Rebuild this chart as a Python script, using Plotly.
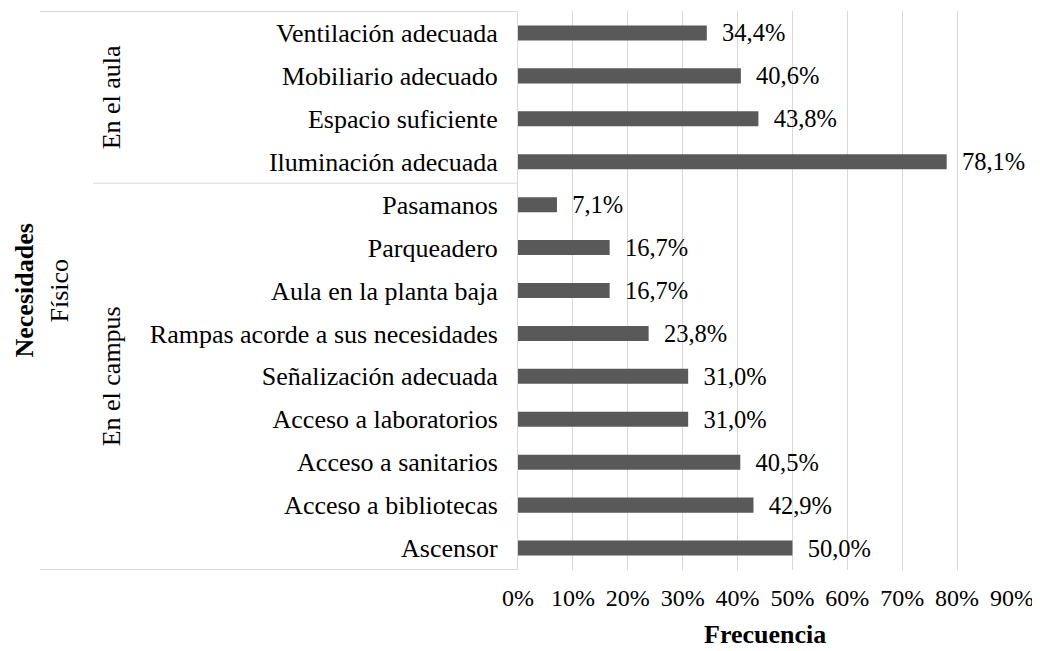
import plotly.graph_objects as go

# data
aula_labels = ["Ventilación adecuada", "Mobiliario adecuado", "Espacio suficiente", "Iluminación adecuada"]
aula_values = [34.4, 40.6, 43.8, 78.1]

campus_labels = [
    "Pasamanos",
    "Parqueadero",
    "Aula en la planta baja",
    "Rampas acorde a sus necesidades",
    "Señalización adecuada",
    "Acceso a laboratorios",
    "Acceso a sanitarios",
    "Acceso a bibliotecas",
    "Ascensor",
]
campus_values = [7.1, 16.7, 16.7, 23.8, 31.0, 31.0, 40.5, 42.9, 50.0]

group_names = ["En el aula", "En el campus"]
outer_name = "Físico"
x_ticks = [0, 10, 20, 30, 40, 50, 60, 70, 80, 90]

labels = aula_labels + campus_labels
values = aula_values + campus_values

FONT = "Liberation Serif, Times New Roman, serif"
BAR = "#595959"
GRID = "#d9d9d9"

# the page body adds an 8px margin, so the figure is drawn 8px smaller
OFF = 8
W, H = 1040 - OFF, 651 - OFF
L, R, T, B = 518 - OFF, 28, 11 - OFF, 81
plot_w = W - L - R
plot_h = H - T - B


def px_to_paper_x(px):
    # px is a page pixel of the reference
    return (px - OFF - L) / plot_w


def px_to_paper_y(py):
    return (H - B - (py - OFF)) / plot_h


texts = ["\u00a0\u00a0" + f"{v:.1f}%".replace(".", ",") for v in values]

fig = go.Figure(
    go.Bar(
        x=[v / 100 for v in values],
        y=labels,
        orientation="h",
        marker=dict(color=BAR, line=dict(width=0)),
        width=0.35,
        text=texts,
        textposition="outside",
        constraintext="none",
        cliponaxis=False,
        textfont=dict(family=FONT, size=24.5, color="black"),
        hoverinfo="skip",
    )
)

fig.update_layout(
    width=W,
    height=H,
    margin=dict(l=L, r=R, t=T, b=B),
    plot_bgcolor="white",
    paper_bgcolor="white",
    showlegend=False,
    font=dict(family=FONT, color="black"),
    xaxis=dict(
        range=[0, 0.9],
        tickvals=[t / 100 for t in x_ticks],
        ticktext=[f"{t}%" for t in x_ticks],
        tickfont=dict(size=24),
        showgrid=True,
        gridcolor=GRID,
        gridwidth=1,
        zeroline=False,
        showline=False,
        ticks="outside",
        ticklen=6,
        tickcolor="rgba(0,0,0,0)",
        fixedrange=True,
    ),
    yaxis=dict(
        categoryorder="array",
        categoryarray=labels,
        autorange="reversed",
        tickfont=dict(size=26),
        showgrid=False,
        showline=True,
        linecolor=GRID,
        linewidth=1,
        ticks="outside",
        ticklen=14,
        tickcolor="rgba(0,0,0,0)",
        fixedrange=True,
    ),
)

# separator lines of the multi-level category axis
n_aula = len(aula_labels)
n_all = len(labels)
left_outer = px_to_paper_x(40)
left_group = px_to_paper_x(93)
for y, x0 in [(-0.5, left_outer), (n_aula - 0.5, left_group), (n_all - 0.5, left_outer)]:
    fig.add_shape(
        type="line", xref="paper", yref="y", x0=x0, x1=0, y0=y, y1=y,
        line=dict(color=GRID, width=1),
    )

# group labels
group_centres = [(n_aula - 1) / 2, n_aula + (len(campus_labels) - 1) / 2]
for name, yc in zip(group_names, group_centres):
    fig.add_annotation(
        x=px_to_paper_x(111), xref="paper", y=yc, yref="y",
        text=name, textangle=-90, showarrow=False,
        xanchor="center", yanchor="middle",
        font=dict(family=FONT, size=26),
    )

fig.add_annotation(
    x=px_to_paper_x(59), xref="paper", y=0.5, yref="paper",
    text=outer_name, textangle=-90, showarrow=False,
    xanchor="center", yanchor="middle",
    font=dict(family=FONT, size=26),
)

# axis titles
fig.add_annotation(
    x=px_to_paper_x(24), xref="paper", y=0.5, yref="paper",
    text="<b>Necesidades</b>", textangle=-90, showarrow=False,
    xanchor="center", yanchor="middle",
    font=dict(family=FONT, size=26),
)
fig.add_annotation(
    x=0.5, xref="paper", y=px_to_paper_y(634), yref="paper",
    text="<b>Frecuencia</b>", showarrow=False,
    xanchor="center", yanchor="middle",
    font=dict(family=FONT, size=26),
)

fig.write_html("out.html")
